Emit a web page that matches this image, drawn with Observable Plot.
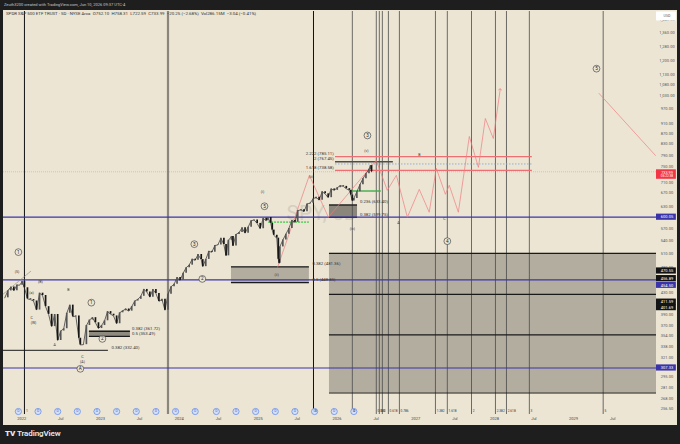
<!DOCTYPE html>
<html><head><meta charset="utf-8">
<script src="https://cdn.jsdelivr.net/npm/d3@7"></script>
<script src="https://cdn.jsdelivr.net/npm/@observablehq/plot@0.6"></script>
<style>
body{margin:0;background:#1e1e1e;width:680px;height:444px;overflow:hidden;position:relative;font-family:Roboto,"Noto Sans",sans-serif}
#top{position:absolute;left:4px;top:0;height:10px;line-height:10px;font-size:4px;color:#c8c8c8;white-space:nowrap}
#chart{position:absolute;left:3px;top:10px}
#legend{position:absolute;left:6px;top:11px;font-size:4.4px;color:#333;line-height:6px;white-space:nowrap}
#foot{position:absolute;left:5px;top:429px;font-size:8px;color:#e8e8e8;font-weight:600;letter-spacing:-0.1px}
</style></head>
<body>
<div id="top">Zeuth3200 created with TradingView.com, Jun 10, 2026 09:37 UTC-4</div>
<div id="chart"></div>
<div id="legend">SPDR S&amp;P 500 ETF TRUST · 5D · NYSE Arca&nbsp;&nbsp;O752.10&nbsp;&nbsp;H758.31&nbsp;&nbsp;L722.59&nbsp;&nbsp;C733.99&nbsp;&nbsp;−20.25 (−2.68%)&nbsp;&nbsp;Vol286.15M&nbsp;&nbsp;−3.04 (−0.41%)</div>
<div id="foot"><span style="font-weight:900">TV</span> TradingView</div>
<script>
// price series (dividend-adjusted, roughly every two weeks)
const closeDates = ["2021-10-15","2021-10-29","2021-11-12","2021-11-26","2021-12-10","2021-12-23",
  "2022-01-03","2022-01-14","2022-01-28","2022-02-11","2022-02-25","2022-03-11","2022-03-25","2022-04-08","2022-04-22","2022-05-06","2022-05-20","2022-06-03","2022-06-17","2022-07-01","2022-07-15","2022-07-29","2022-08-12","2022-08-26","2022-09-09","2022-09-23","2022-09-30","2022-10-14","2022-10-28","2022-11-11","2022-11-25","2022-12-09","2022-12-23",
  "2023-01-06","2023-01-20","2023-02-03","2023-02-17","2023-03-03","2023-03-17","2023-03-31","2023-04-14","2023-04-28","2023-05-12","2023-05-26","2023-06-09","2023-06-23","2023-07-07","2023-07-21","2023-08-04","2023-08-18","2023-09-01","2023-09-15","2023-09-29","2023-10-13","2023-10-27","2023-11-10","2023-11-24","2023-12-08","2023-12-22",
  "2024-01-05","2024-01-19","2024-02-02","2024-02-16","2024-03-01","2024-03-15","2024-03-28","2024-04-12","2024-04-19","2024-05-03","2024-05-17","2024-05-31","2024-06-14","2024-06-28","2024-07-12","2024-07-26","2024-08-05","2024-08-16","2024-08-30","2024-09-06","2024-09-20","2024-10-04","2024-10-18","2024-11-01","2024-11-15","2024-11-29","2024-12-13","2024-12-27",
  "2025-01-10","2025-01-24","2025-02-07","2025-02-14","2025-02-28","2025-03-07","2025-03-14","2025-03-28","2025-04-04","2025-04-08","2025-04-11","2025-04-25","2025-05-09","2025-05-23","2025-06-06","2025-06-20","2025-07-03","2025-07-18","2025-08-01","2025-08-15","2025-08-29","2025-09-12","2025-09-26","2025-10-10","2025-10-24","2025-11-07","2025-11-21","2025-12-05","2025-12-19",
  "2026-01-02","2026-01-16","2026-01-30","2026-02-13","2026-02-27","2026-03-06","2026-03-13","2026-03-20","2026-04-03","2026-04-17","2026-05-01","2026-05-15","2026-05-29","2026-06-05","2026-06-10"];
const closes = [419.6,432.6,440.2,432.8,443.9,443.8,
  450.9,438.7,417.6,416.3,413.7,397.4,428.3,423.9,403.4,389.9,369.3,389.6,347.2,362.1,365.8,391.8,406.2,385.8,387.1,350.7,340.4,340.8,371.1,380.2,384.2,375.6,366.1,
  371.0,378.9,394.7,390.2,387.2,374.0,392.6,396.0,399.3,395.5,403.6,413.6,416.7,422.4,435.5,430.7,420.8,435.4,427.9,413.0,416.8,397.1,426.1,440.7,445.5,459.0,
  453.4,467.9,479.6,485.0,498.0,495.5,508.5,497.1,481.8,497.5,515.7,513.7,529.2,530.6,546.6,531.3,505.5,541.6,550.7,528.0,555.8,560.4,572.3,559.0,574.1,590.5,592.7,583.7,
  570.1,597.1,590.6,599.3,584.1,566.7,553.8,546.8,497.7,489.0,525.9,542.3,556.4,571.0,591.3,586.6,617.8,620.1,614.9,636.3,638.6,650.8,655.8,647.1,671.9,665.6,654.4,680.2,675.9,
  684,690,688,681,676,662,645,652,672,693,712,728,742,754.24,733.99];
const lastPrice = 733.99;

// projection zigzag (wave (iii)-(v) and wave 4/5 path)
const projDates = ["2025-04-01","2025-08-26","2025-11-22","2026-07-02","2026-08-22","2026-10-03","2026-11-23","2027-01-17","2027-03-04","2027-04-06","2027-05-18","2027-06-05","2027-07-17","2027-09-06","2027-10-18","2027-11-19","2027-12-26","2028-01-27"];
const projValues = [481,722.6,600,772,676,722.6,600,679,613.4,745.3,664.3,691.3,613.4,858.7,748.6,929.9,851,1058.6];
const proj2Dates = ["2029-04-29","2030-01-15"];
const proj2Values = [1039,789.4];

// horizontal levels
const blueLevels = [600.05, 454.50, 307.33];
const bigBoxLevels = [511, 426, 356, 275];
const boxStarts = ["2022-11-11","2024-08-30","2025-11-27"];
const boxEnds   = ["2023-05-20","2025-08-26","2026-04-06"];
const boxTops   = [361.72, 481.36, 633.40];
const boxBottoms= [353.49, 448.85, 599.75];
const fibLeft = {start:"2021-10-09", end:"2023-02-07", value:332.40};
const fibExtLevels = [785.11, 738.58];
const fibExtMid = 767.45, fibExtDotted = 760;
const fibExtStart = "2025-12-25", fibExtMidEnd = "2026-09-19", fibExtEnd = "2028-06-24";
const greenDashed = {start:"2025-02-18", end:"2025-08-26", value:587};
const greenSolid  = {start:"2026-03-04", end:"2026-07-25", value:674};
const channelDates = ["2021-10-09","2022-02-12"];
const channelValues = [427, 472];

// fib level labels
const fibLabelText = ["0.382 (332.40)","0.382 (361.72)","0.5 (353.49)","0.382 (481.36)","0.5 (448.85)","0.236 (633.40)","0.382 (599.75)"];
const fibLabelDates = ["2023-02-21","2023-05-27","2023-05-27","2025-09-09","2025-09-09","2026-04-17","2026-04-17"];
const fibLabelValues = [332.40,361.72,353.49,481.36,448.85,633.40,599.75];
const fibExtLabelText = ["2.222 (785.11)","2 (767.45)","1.618 (738.58)"];
const fibExtLabelValues = [785.11,767.45,738.58];
const fibExtLabelDate = "2025-12-17";

// vertical lines
const blackVLines = ["2022-01-14","2025-09-14"];
const blackVLabels = ["1","5"];
const grayVLine = ["2023-11-10"];
const timeFibDates = ["2026-03-13","2026-07-02","2026-07-16","2026-07-30","2026-08-27","2026-10-17","2027-04-02","2027-05-27","2027-09-16","2028-01-05","2028-02-25","2028-06-10","2029-05-18"];
const timeFibLabels = ["0","0.382","0.5","","0.618","0.786","1.382","1.618","2","2.382","2.618","3","5"];

// dividends
const divDates = ["2021-12-17","2022-03-18","2022-06-17","2022-09-16","2022-12-16","2023-03-17","2023-06-16","2023-09-15","2023-12-15","2024-03-15","2024-06-21","2024-09-20","2024-12-20","2025-03-21","2025-06-20","2025-09-19","2025-12-19","2026-03-20"];

// wave labels
const circledText = ["1","1","2","A","3","2","5","3","4","5"];
const circledDates = ["2021-12-17","2022-11-20","2023-01-10","2022-09-30","2024-03-11","2024-04-17","2025-01-30","2026-05-22","2027-05-27","2029-04-17"];
const circledValues = [513.9,410.7,349.7,306.2,532.4,456.3,629.9,862.4,539.5,1160];
const waveText = ["(5)","(B)","(a)","C","(W)","B","A","C","(A)","(i)","(ii)","(iii)","(iv)","(v)","A","B","C"];
const waveDates = ["2021-12-11","2022-03-29","2022-02-16","2022-02-16","2022-02-25","2022-08-06","2022-06-03","2022-10-10","2022-10-10","2025-01-21","2025-03-27","2025-09-05","2026-03-13","2026-05-17","2026-10-12","2027-01-17","2027-05-14"];
const waveValues = [470.3,449.8,428.7,383.4,374.9,434.5,340.6,323.3,316.2,673,464,719.3,569,807,584.3,793,594.7];

// price axis
const axisTicks = [1440,1360,1280,1200,1130,1080,1030,970,910,870,830,790,750,710,670,630,570,540,510,480,430,390,370,354,338,321,295,281,268,256.5];
const blackAxisLabels = [470.55,456.89,411.59,401.69];
const blueAxisLabels = [600.05,454.50,307.33];
const timeTickDates = ["2022-01-01","2022-07-01","2023-01-01","2023-07-01","2024-01-01","2024-07-01","2025-01-01","2025-07-01","2026-01-01","2026-07-01","2027-01-01","2027-07-01","2028-01-01","2028-07-01","2029-01-01","2029-07-01"];
const timeTickLabels = ["2022","Jul","2023","Jul","2024","Jul","2025","Jul","2026","Jul","2027","Jul","2028","Jul","2029","Jul"];

const D = s => new Date(s);
const xMin = D("2021-10-09"), xMax = D("2030-01-20"), xFar = D("2030-04-22");
const PX = 226; // px per log unit, used to size axis tags
const up = px => v => v * Math.exp(px / PX);

const rows = closeDates.map((d, i) => ({date: D(d), close: closes[i], open: i ? closes[i - 1] : closes[i]}));
const fmt = d3.format(",.2f");
const labelShift = {470.55: 1, 456.89: 0, 454.5: -5.5, 411.59: 0, 401.69: 0};
const tickShift = {710: -3};

const seg = (start, end, value) => [{x1: D(start), x2: D(end), y: value}];

const chart = Plot.plot({
  width: 674, height: 415,
  marginLeft: 0, marginRight: 21, marginTop: 1, marginBottom: 11,
  style: {background: "#ece5d4", fontFamily: "Roboto, 'Noto Sans', sans-serif", overflow: "visible"},
  x: {type: "utc", domain: [xMin, xMax], axis: null},
  y: {type: "log", domain: [250, 1495], axis: null},
  marks: [
    Plot.text(["SPY, 5D"], {frameAnchor: "middle", text: d => d, fontSize: 21, fill: "#d6cfbf", dx: -8}),
    // big box
    Plot.rect([0], {x1: () => D("2025-11-27"), x2: () => xMax, y1: () => bigBoxLevels[0], y2: () => bigBoxLevels[3], fill: "#b3ada0"}),
    Plot.rect(boxStarts.map((s, i) => ({x1: D(s), x2: D(boxEnds[i]), y1: boxTops[i], y2: boxBottoms[i], i})),
      {x1: "x1", x2: "x2", y1: "y1", y2: "y2", fill: d => ["#8f8a7f", "#b3ada0", "#8a867c"][d.i]}),
    // vertical lines
    Plot.ruleX(timeFibDates.map(D), {stroke: "#4a4a4a", strokeWidth: 0.8}),
    Plot.ruleX(grayVLine.map(D), {stroke: "#8b867c", strokeWidth: 2.2}),
    Plot.ruleX(blackVLines.map(D), {stroke: "#111", strokeWidth: 1}),
    // horizontal levels
    Plot.ruleY(bigBoxLevels, {x1: D("2025-11-27"), x2: xMax, stroke: "#1a1a1a", strokeWidth: 1.2}),
    Plot.ruleY(boxTops, {x1: (d, i) => D(boxStarts[i]), x2: (d, i) => D(boxEnds[i]), stroke: "#1a1a1a", strokeWidth: 1.3}),
    Plot.ruleY(boxBottoms, {x1: (d, i) => D(boxStarts[i]), x2: (d, i) => D(boxEnds[i]), stroke: "#1a1a1a", strokeWidth: 1.3}),
    Plot.ruleY(seg(fibLeft.start, fibLeft.end, fibLeft.value), {x1: "x1", x2: "x2", y: "y", stroke: "#1a1a1a", strokeWidth: 1}),
    Plot.ruleY(blueLevels, {stroke: "#3b34a8", strokeWidth: 1.2}),
    Plot.ruleY([lastPrice], {stroke: "#f23645", strokeOpacity: 0.45, strokeWidth: 0.6, strokeDasharray: "1,1"}),
    Plot.ruleY(seg(greenDashed.start, greenDashed.end, greenDashed.value), {x1: "x1", x2: "x2", y: "y", stroke: "#6ccf6c", strokeWidth: 1.6, strokeDasharray: "2,1"}),
    Plot.ruleY(seg(greenSolid.start, greenSolid.end, greenSolid.value), {x1: "x1", x2: "x2", y: "y", stroke: "#3dae4a", strokeWidth: 1.4}),
    Plot.ruleY(fibExtLevels, {x1: D(fibExtStart), x2: D(fibExtEnd), stroke: "#ee6f73", strokeWidth: 1.2}),
    Plot.ruleY(seg(fibExtStart, fibExtEnd, fibExtDotted), {x1: "x1", x2: "x2", y: "y", stroke: "#86a9d6", strokeWidth: 0.9, strokeDasharray: "1.5,1.5"}),
    Plot.ruleY(seg(fibExtStart, fibExtMidEnd, fibExtMid), {x1: "x1", x2: "x2", y: "y", stroke: "#4d4d4d", strokeWidth: 1.4}),
    Plot.line(channelDates.map((d, i) => ({d: D(d), v: channelValues[i]})), {x: "d", y: "v", stroke: "#8a8a8a", strokeWidth: 0.7, strokeDasharray: "1.5,1"}),
    // projection
    Plot.line(projDates.map((d, i) => ({d: D(d), v: projValues[i]})), {x: "d", y: "v", stroke: "#ef7d80", strokeWidth: 0.7, markerEnd: "arrow"}),
    Plot.line(proj2Dates.map((d, i) => ({d: D(d), v: proj2Values[i]})), {x: "d", y: "v", stroke: "#ef7d80", strokeWidth: 0.7}),
    // price
    Plot.line(rows, {x: "date", y: "close", stroke: "#2a2a2a", strokeWidth: 0.7}),
    Plot.ruleX(rows.filter(d => d.close >= d.open), {x: "date", y1: "open", y2: "close", stroke: "#555", strokeWidth: 1.7}),
    Plot.ruleX(rows.filter(d => d.close < d.open), {x: "date", y1: "open", y2: "close", stroke: "#161616", strokeWidth: 1.7}),
    // fib labels
    Plot.text(fibLabelText, {x: (d, i) => D(fibLabelDates[i]), y: (d, i) => fibLabelValues[i], text: d => d, dy: -3, textAnchor: "start", fontSize: 4.3, fill: "#333"}),
    Plot.text(fibExtLabelText, {x: () => D(fibExtLabelDate), y: (d, i) => fibExtLabelValues[i], text: d => d, dy: -3, textAnchor: "end", fontSize: 4.3, fill: "#333"}),
    // wave labels
    Plot.dot(circledText, {x: (d, i) => D(circledDates[i]), y: (d, i) => circledValues[i], r: 3.4, stroke: "#333", strokeWidth: 0.6, fill: "#ece5d4"}),
    Plot.text(circledText, {x: (d, i) => D(circledDates[i]), y: (d, i) => circledValues[i], text: d => d, fontSize: 4.6, fill: "#222"}),
    Plot.text(waveText, {x: (d, i) => D(waveDates[i]), y: (d, i) => waveValues[i], text: d => d, fontSize: 3.6, fill: "#333"}),
    // dividends and time-fib labels
    Plot.dot(divDates, {x: D, frameAnchor: "bottom", dy: -3, r: 3.1, fill: "#d5e0f7", stroke: "#6a8fe6", strokeWidth: 0.8}),
    Plot.text(divDates, {x: D, frameAnchor: "bottom", dy: -3, text: () => "D", fontSize: 3.4, fill: "#4a6fd0"}),
    Plot.text(timeFibLabels, {x: (d, i) => D(timeFibDates[i]), frameAnchor: "bottom", dy: -3, dx: 1.2, text: d => d, textAnchor: "start", fontSize: 3.2, fill: "#333"}),
    Plot.text(blackVLabels, {x: (d, i) => D(blackVLines[i]), frameAnchor: "bottom", dy: -3, dx: 1.5, text: d => d, textAnchor: "start", fontSize: 3.4, fill: "#333"}),
    // time axis
    Plot.text(timeTickLabels, {x: (d, i) => D(timeTickDates[i]), frameAnchor: "bottom", dy: 5.5, text: d => d, fontSize: 4, fill: "#444"}),
    // price axis
    Plot.text(axisTicks, {x: () => xMax, y: d => up(tickShift[d] || 0)(d), text: fmt, dx: 10.5, fontSize: 4, fill: "#555"}),
    Plot.rect(blackAxisLabels, {x1: () => xMax, x2: () => xFar, y1: d => up(3.1 + labelShift[d])(d), y2: d => up(-3.1 + labelShift[d])(d), fill: "#131313"}),
    Plot.text(blackAxisLabels, {x: () => xMax, y: d => up(labelShift[d])(d), text: fmt, dx: 10.5, fontSize: 4, fill: "#fff"}),
    Plot.rect(blueAxisLabels, {x1: () => xMax, x2: () => xFar, y1: d => up(3.1 + (labelShift[d] || 0))(d), y2: d => up(-3.1 + (labelShift[d] || 0))(d), fill: "#3b34a8"}),
    Plot.text(blueAxisLabels, {x: () => xMax, y: d => up(labelShift[d] || 0)(d), text: fmt, dx: 10.5, fontSize: 4, fill: "#fff"}),
    Plot.rect([lastPrice], {x1: () => xMax, x2: () => xFar, y1: up(2), y2: up(-7.5), fill: "#f23645"}),
    Plot.text([lastPrice], {x: () => xMax, y: d => d, text: fmt, dx: 10.5, dy: 0.8, fontSize: 3.8, fill: "#fff"}),
    Plot.text(["06:22:38"], {x: () => xMax, y: () => lastPrice, text: d => d, dx: 10.5, dy: 4.4, fontSize: 3.2, fill: "#fff"}),
    Plot.rect(["USD"], {x1: () => xMax, x2: () => xFar, y1: () => 1440, y2: () => 1440, insetTop: -8, insetBottom: -1, fill: "#fff"}),
    Plot.text(["USD"], {x: () => xMax, y: () => 1440, text: d => d, dx: 10.5, dy: -4.5, fontSize: 3.6, fill: "#555"})
  ]
});
document.getElementById("chart").append(chart);
</script>
</body></html>
